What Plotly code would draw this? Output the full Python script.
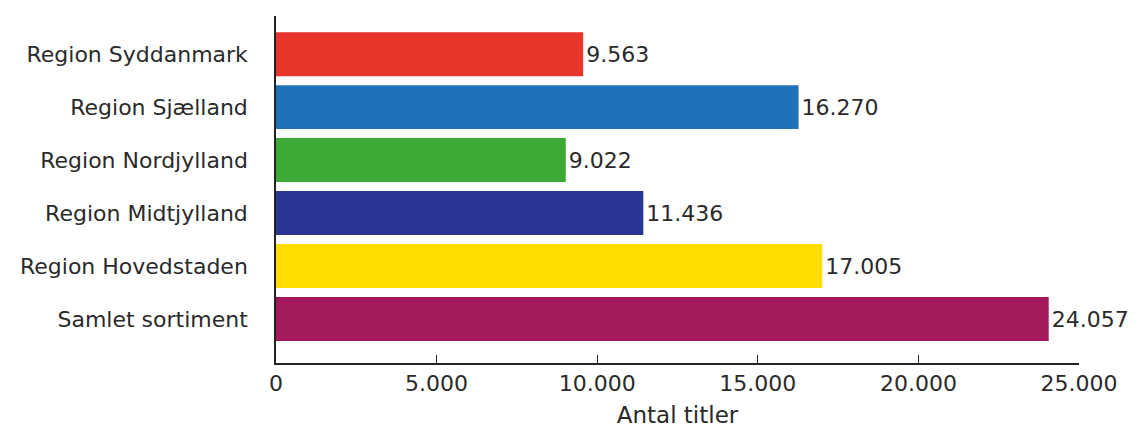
import plotly.graph_objects as go

categories = ["Samlet sortiment", "Region Hovedstaden", "Region Midtjylland",
              "Region Nordjylland", "Region Sjælland", "Region Syddanmark"]
values = [24057, 17005, 11436, 9022, 16270, 9563]
colors = ["#A21A5B", "#FFDD00", "#283592", "#3DAA35", "#1F72B8", "#E8352B"]
tick_vals = [0, 5000, 10000, 15000, 20000, 25000]

font_family = "DejaVu Sans"
text_color = "#2a2a2a"

# page body has an 8px default margin, so the figure is sized/offset to compensate
fig = go.Figure(go.Bar(
    y=categories, x=values, orientation="h",
    marker=dict(color=colors, line=dict(width=0)),
    width=0.83,
    text=values, texttemplate="%{x:,d}", textposition="outside",
    textfont=dict(size=22, color=text_color, family=font_family),
    cliponaxis=False,
))

fig.update_layout(
    width=1131, height=420,
    margin=dict(l=268, r=60, t=8, b=65),
    plot_bgcolor="white", paper_bgcolor="white",
    separators=",.",
    font=dict(family=font_family, size=22, color=text_color),
    showlegend=False,
    xaxis=dict(
        range=[0, 25000], tickvals=tick_vals, tickformat=",d",
        showgrid=False, zeroline=False,
        showline=True, linecolor="#222", linewidth=1.5,
        ticks="inside", ticklen=8, tickcolor="#222",
        title=dict(text="Antal titler", standoff=16,
                   font=dict(size=23, family=font_family, color=text_color)),
        automargin=False,
    ),
    yaxis=dict(
        range=[-0.83, 5.72], showgrid=False, zeroline=False,
        showline=True, linecolor="#222", linewidth=1.5,
        ticks="", ticklabelstandoff=22,
        automargin=False,
    ),
)

fig.write_html("out.html")
